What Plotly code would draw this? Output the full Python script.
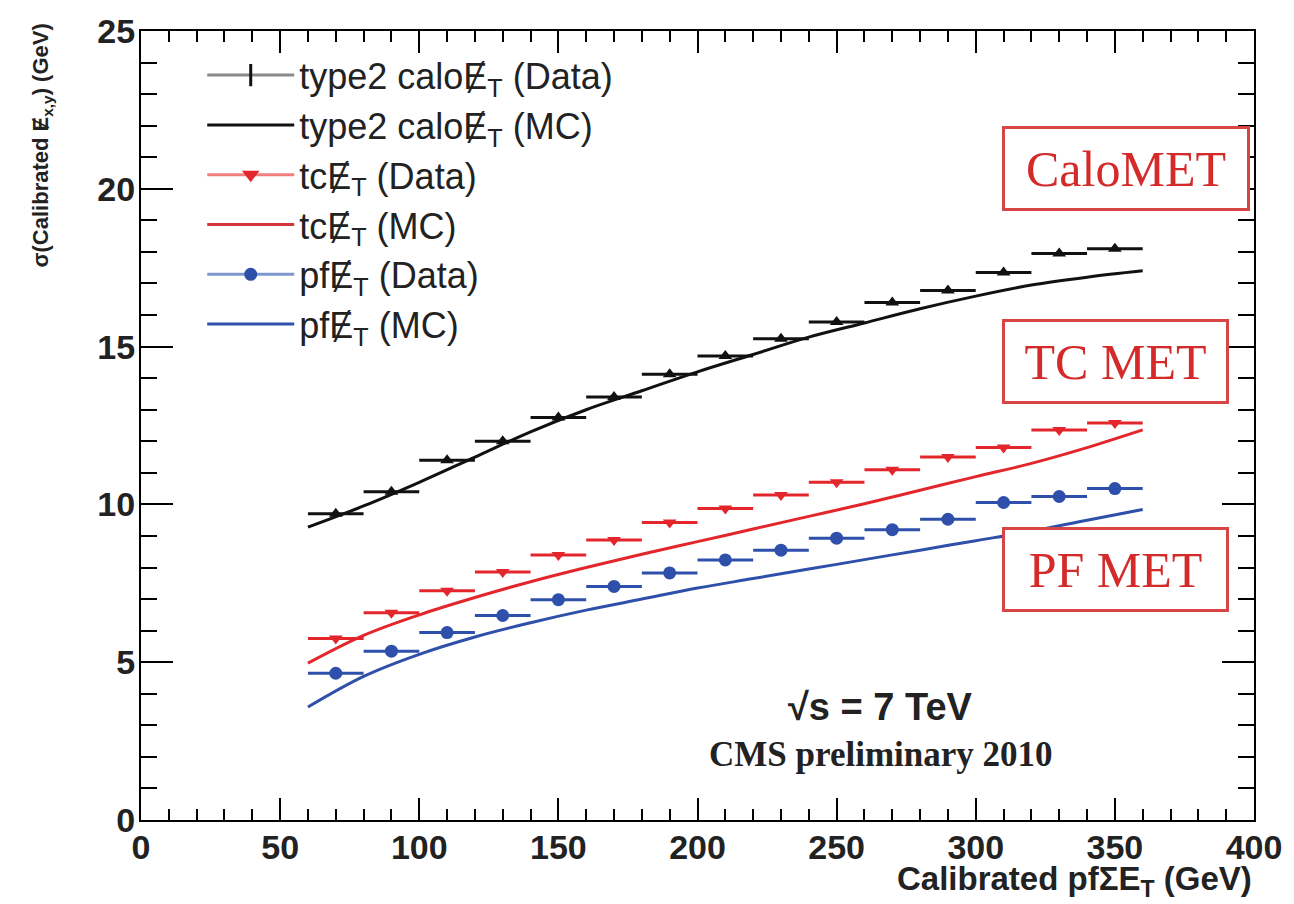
import plotly.graph_objects as go

# ---------------- data ----------------
bin_centers = [70, 90, 110, 130, 150, 170, 190, 210, 230, 250, 270, 290, 310, 330, 350]
bin_half_width = 10

calo_data = [9.7, 10.4, 11.4, 12.0, 12.75, 13.4, 14.12, 14.7, 15.25, 15.78, 16.4, 16.78, 17.35, 17.95, 18.1]
tc_data = [5.75, 6.57, 7.26, 7.86, 8.4, 8.87, 9.43, 9.87, 10.3, 10.7, 11.1, 11.5, 11.8, 12.36, 12.58]
pf_data = [4.65, 5.35, 5.94, 6.48, 6.98, 7.4, 7.83, 8.24, 8.55, 8.93, 9.2, 9.53, 10.06, 10.25, 10.5]

mc_x = [60, 80, 100, 120, 140, 160, 180, 200, 220, 240, 260, 280, 300, 320, 340, 360]
calo_mc = [9.28, 9.95, 10.7, 11.5, 12.3, 13.0, 13.6, 14.2, 14.75, 15.3, 15.75, 16.2, 16.6, 16.95, 17.2, 17.4]
tc_mc = [4.97, 5.85, 6.5, 7.05, 7.55, 8.0, 8.42, 8.82, 9.22, 9.62, 10.02, 10.45, 10.88, 11.3, 11.8, 12.36]
pf_mc = [3.58, 4.55, 5.25, 5.8, 6.25, 6.65, 7.0, 7.35, 7.65, 7.95, 8.25, 8.55, 8.85, 9.15, 9.5, 9.84]

x_ticks = [0, 50, 100, 150, 200, 250, 300, 350, 400]
y_ticks = [0, 5, 10, 15, 20, 25]

BLACK = "#111111"
RED = "#e3262b"
BLUE = "#2f50aa"
MET = "\u0246"  # E with stroke (missing transverse energy)
SANS = "Liberation Sans, Arial, sans-serif"
SERIF = "Liberation Serif, Times New Roman, serif"

fig = go.Figure()

def data_trace(y, color, symbol, size, name):
    fig.add_trace(go.Scatter(
        x=bin_centers, y=y, mode="markers",
        marker=dict(symbol=symbol, size=size, color=color),
        error_x=dict(type="constant", value=bin_half_width, color=color, thickness=3, width=0),
        showlegend=False, name=name,
    ))

def legend_trace(name, color, linecolor, symbol, size, mode):
    fig.add_trace(go.Scatter(
        x=[None], y=[None], mode=mode, name=name,
        line=dict(color=linecolor, width=3),
        marker=dict(symbol=symbol, size=size, color=color, line=dict(color=color, width=3)),
    ))

# MC curves
fig.add_trace(go.Scatter(x=mc_x, y=calo_mc, mode="lines", line=dict(color=BLACK, width=3, shape="spline"), showlegend=False))
fig.add_trace(go.Scatter(x=mc_x, y=tc_mc, mode="lines", line=dict(color=RED, width=3, shape="spline"), showlegend=False))
fig.add_trace(go.Scatter(x=mc_x, y=pf_mc, mode="lines", line=dict(color=BLUE, width=3, shape="spline"), showlegend=False))

# Data points
data_trace(calo_data, BLACK, "triangle-up", 12, "calo data")
data_trace(tc_data, RED, "triangle-down", 12, "tc data")
data_trace(pf_data, BLUE, "circle", 13, "pf data")

# legend entries
legend_trace(f"type2 calo{MET}<sub>T</sub> (Data)", BLACK, "#8a8a8a", "line-ns", 16, "lines+markers")
legend_trace(f"type2 calo{MET}<sub>T</sub> (MC)", BLACK, BLACK, "circle", 1, "lines")
legend_trace(f"tc{MET}<sub>T</sub> (Data)", RED, "#f08080", "triangle-down", 10, "lines+markers")
legend_trace(f"tc{MET}<sub>T</sub> (MC)", RED, "#d0363c", "circle", 1, "lines")
legend_trace(f"pf{MET}<sub>T</sub> (Data)", BLUE, "#7f98cc", "circle", 10, "lines+markers")
legend_trace(f"pf{MET}<sub>T</sub> (MC)", BLUE, BLUE, "circle", 1, "lines")

axis_common = dict(
    showline=True, linecolor="black", linewidth=2, mirror="ticks",
    ticks="inside", tickcolor="black", tickwidth=2,
    showgrid=False, zeroline=False,
    tickfont=dict(family=SANS, size=34, color="#222222", weight="bold"),
)

fig.update_xaxes(range=[0, 400], tickvals=x_ticks, ticklen=22, ticklabelstandoff=-4,
                 minor=dict(dtick=10, ticks="inside", ticklen=11, tickcolor="black", tickwidth=2),
                 **axis_common)
fig.update_yaxes(range=[0, 25], tickvals=y_ticks, ticklen=32, ticklabelstandoff=-3,
                 minor=dict(dtick=1, ticks="inside", ticklen=16, tickcolor="black", tickwidth=2),
                 **axis_common)

ann = []
# axis titles
ann.append(dict(x=1, y=-0.0775, xref="paper", yref="paper", xanchor="right", yanchor="middle",
                text="Calibrated pf\u03a3E<sub>T</sub> (GeV)", showarrow=False,
                font=dict(family=SANS, size=33, color="#222222", weight="bold")))
ann.append(dict(x=-0.0886, y=1.0125, xref="paper", yref="paper", xanchor="center", yanchor="top",
                text=f"\u03c3(Calibrated {MET}<sub>x,y</sub>) (GeV)", showarrow=False, textangle=-90,
                font=dict(family=SANS, size=22, color="#222222", weight="bold")))
# text labels
ann.append(dict(x=0.6646, y=0.143, xref="paper", yref="paper", xanchor="center", yanchor="middle",
                text="\u221as = 7 TeV", showarrow=False,
                font=dict(family=SANS, size=38, color="#222222", weight="bold")))
ann.append(dict(x=0.6646, y=0.083, xref="paper", yref="paper", xanchor="center", yanchor="middle",
                text="CMS preliminary 2010", showarrow=False,
                font=dict(family=SERIF, size=35, color="#222222", weight="bold")))
# boxed labels
for txt, xx, yy, w in [("CaloMET", 0.8846, 0.8256, 240), ("TC MET", 0.8752, 0.5810, 219), ("PF MET", 0.8752, 0.3180, 219)]:
    ann.append(dict(x=xx, y=yy, xref="paper", yref="paper", xanchor="center", yanchor="middle",
                    text=txt, showarrow=False, width=w, height=77,
                    font=dict(family=SERIF, size=50, color="#d42a2a"),
                    bgcolor="white", bordercolor="#d84545", borderwidth=3, borderpad=1))

fig.update_layout(
    width=1294, height=904,
    margin=dict(l=141, r=35, t=23, b=84),
    paper_bgcolor="white", plot_bgcolor="white",
    annotations=ann,
    legend=dict(x=0.055, y=0.982, xanchor="left", yanchor="top",
                bgcolor="rgba(0,0,0,0)", borderwidth=0, itemwidth=87,
                font=dict(family=SANS, size=36, color="#222222")),
)

fig.write_html("out.html")
